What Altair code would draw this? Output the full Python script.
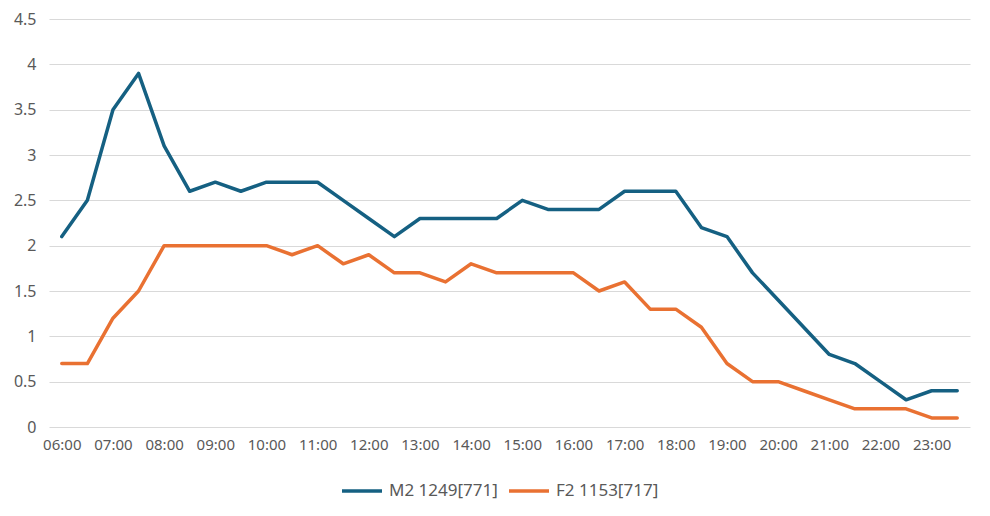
import altair as alt
import pandas as pd

times = [f"{h:02d}:{m:02d}" for h in range(6, 24) for m in (0, 30)]
m2 = [2.1, 2.5, 3.5, 3.9, 3.1, 2.6, 2.7, 2.6, 2.7, 2.7, 2.7, 2.5, 2.3, 2.1, 2.3, 2.3, 2.3, 2.3,
      2.5, 2.4, 2.4, 2.4, 2.6, 2.6, 2.6, 2.2, 2.1, 1.7, 1.4, 1.1, 0.8, 0.7, 0.5, 0.3, 0.4, 0.4]
f2 = [0.7, 0.7, 1.2, 1.5, 2.0, 2.0, 2.0, 2.0, 2.0, 1.9, 2.0, 1.8, 1.9, 1.7, 1.7, 1.6, 1.8, 1.7,
      1.7, 1.7, 1.7, 1.5, 1.6, 1.3, 1.3, 1.1, 0.7, 0.5, 0.5, 0.4, 0.3, 0.2, 0.2, 0.2, 0.1, 0.1]
y_ticks = [0, 0.5, 1, 1.5, 2, 2.5, 3, 3.5, 4, 4.5]
series_names = ["M2 1249[771]", "F2 1153[717]"]
colors = ["#156082", "#E97132"]

rows = []
for t, a, b in zip(times, m2, f2):
    rows.append({"time": t, "value": a, "series": series_names[0]})
    rows.append({"time": t, "value": b, "series": series_names[1]})
df = pd.DataFrame(rows)

FONT = "Noto Sans"

chart = alt.Chart(df).mark_line(strokeWidth=3.5, strokeJoin="round", strokeCap="round").encode(
    x=alt.X("time:O", sort=times,
            scale=alt.Scale(type="point", padding=0.5),
            axis=alt.Axis(title=None, labelAngle=0, ticks=False, domain=False, grid=False,
                          labelExpr="indexof(datum.label, ':30') >= 0 ? '' : datum.label",
                          labelFont=FONT, labelFontSize=15, labelColor="#595959",
                          labelPadding=10)),
    y=alt.Y("value:Q",
            scale=alt.Scale(domain=[0, 4.5], nice=False),
            axis=alt.Axis(title=None, values=y_ticks, format="~g",
                          ticks=False, domain=False, gridColor="#D9D9D9", gridWidth=1,
                          labelFont=FONT, labelFontSize=16, labelColor="#595959",
                          labelPadding=13)),
    color=alt.Color("series:N", sort=series_names,
                    scale=alt.Scale(domain=series_names, range=colors),
                    legend=alt.Legend(title=None, orient="none", direction="horizontal",
                                      legendX=291, legendY=450,
                                      symbolType="stroke", symbolSize=1600,
                                      symbolStrokeWidth=3.5, columnPadding=4,
                                      labelFont=FONT, labelFontSize=17, labelColor="#595959",
                                      labelOffset=5)),
).properties(
    width=921, height=408,
    autosize=alt.AutoSizeParams(type="none"),
    padding={"left": 41, "top": 11, "right": 12, "bottom": 78},
).configure_view(stroke=None)

chart.save("out.html", embed_options={"renderer": "svg", "actions": False})
